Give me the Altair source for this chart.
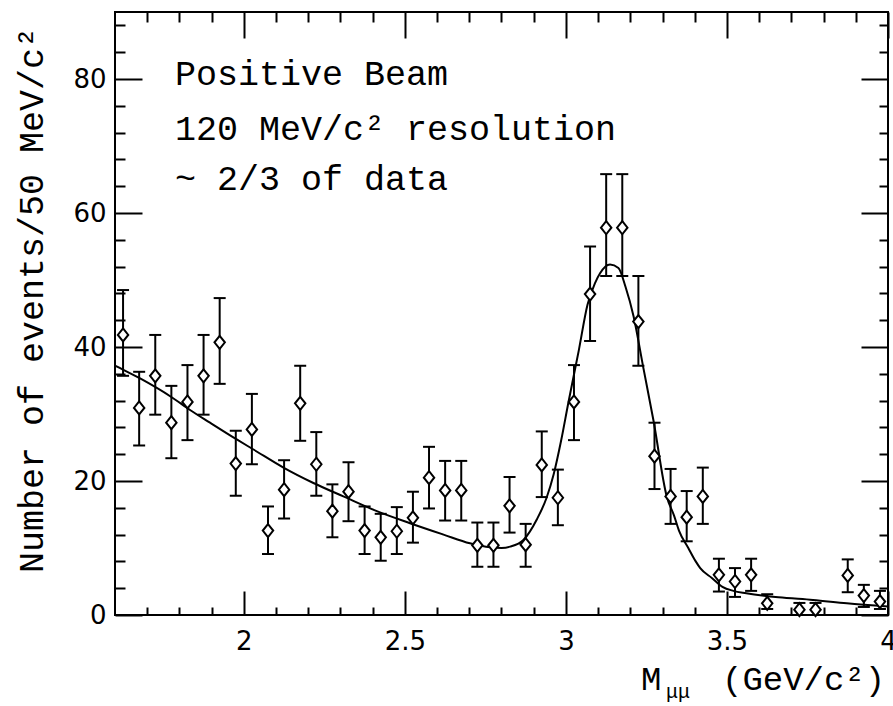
import json
import altair as alt
import pandas as pd

# ---------------- data ----------------
MASS = [1.625, 1.675, 1.725, 1.775, 1.825, 1.875, 1.925, 1.975,
        2.025, 2.075, 2.125, 2.175, 2.225, 2.275, 2.325, 2.375,
        2.425, 2.475, 2.525, 2.575, 2.625, 2.675, 2.725, 2.775,
        2.825, 2.875, 2.925, 2.975, 3.025, 3.075, 3.125, 3.175,
        3.225, 3.275, 3.325, 3.375, 3.425, 3.475, 3.525, 3.575,
        3.625, 3.675, 3.725, 3.775, 3.825, 3.875, 3.925, 3.975]
COUNTS = [41.8, 30.9, 35.7, 28.7, 31.8, 35.7, 40.7, 22.6,
          27.7, 12.6, 18.7, 31.6, 22.5, 15.5, 18.4, 12.6,
          11.6, 12.5, 14.5, 20.5, 18.6, 18.6, 10.4, 10.4,
          16.3, 10.5, 22.4, 17.5, 31.8, 47.9, 57.8, 57.8,
          43.8, 23.7, 17.7, 14.6, 17.7, 6.0, 5.0, 6.0,
          1.75, None, 0.8, 0.8, None, 5.9, 2.9, 2.0]
ERR_LO = [35.7, 25.3, 29.9, 23.4, 26.1, 29.9, 34.5, 17.8,
          22.5, 9.1, 14.4, 26.0, 17.8, 11.6, 14.0, 9.1,
          8.1, 9.1, 10.8, 15.9, 14.1, 14.1, 7.2, 7.2,
          12.3, 7.2, 17.6, 13.4, 26.1, 40.9, 50.6, 50.6,
          37.2, 18.8, 13.6, 11.0, 13.6, 3.5, 2.7, 3.6,
          0.9, None, 0.0, 0.0, None, 3.4, 1.2, 0.9]
ERR_HI = [48.5, 36.3, 41.8, 34.2, 37.3, 41.8, 47.3, 27.5,
          33.0, 16.2, 23.1, 37.2, 27.3, 19.5, 22.8, 16.2,
          15.1, 16.1, 18.4, 25.1, 23.0, 23.0, 13.8, 13.8,
          20.6, 13.6, 27.4, 21.7, 37.3, 55.0, 65.8, 65.8,
          50.6, 28.7, 21.8, 18.5, 22.0, 8.4, 7.0, 8.4,
          3.1, None, 1.8, 1.8, None, 8.3, 4.5, 3.6]

# fitted curve
CURVE_X = [1.600, 1.626, 1.678, 1.776, 1.833, 1.895, 1.978, 2.030, 2.123,
           2.216, 2.309, 2.413, 2.516, 2.620, 2.702, 2.765, 2.800, 2.827,
           2.868, 2.910, 2.940, 2.962, 2.985, 3.008, 3.040, 3.067, 3.090,
           3.106, 3.137, 3.163, 3.185, 3.210, 3.240, 3.272, 3.313, 3.336,
           3.351, 3.380, 3.403, 3.417, 3.454, 3.486, 3.520, 3.560, 3.660,
           3.767, 3.872, 4.000]
CURVE_Y = [37.2, 36.6, 35.3, 32.5, 30.6, 28.7, 26.2, 24.7, 22.0,
           19.7, 17.7, 15.5, 13.7, 12.0, 10.7, 10.1, 10.0, 10.2,
           11.2, 14.3, 17.5, 21.0, 26.0, 31.8, 39.5, 46.3, 49.5,
           51.0, 52.3, 51.8, 49.0, 44.6, 37.0, 29.0, 17.7, 14.8,
           12.6, 10.0, 8.0, 7.0, 5.5, 4.2, 3.6, 3.25, 2.65,
           2.25, 1.75, 1.25]

X_MAJOR = [2.0, 2.5, 3.0, 3.5, 4.0]
X_MINOR = [1.7, 1.8, 1.9, 2.1, 2.2, 2.3, 2.4, 2.6, 2.7, 2.8, 2.9,
           3.1, 3.2, 3.3, 3.4, 3.6, 3.7, 3.8, 3.9]
Y_MAJOR = [0, 20, 40, 60, 80]
Y_MINOR = [4, 8, 12, 16, 24, 28, 32, 36, 44, 48, 52, 56, 64, 68, 72, 76, 84, 88]

ANNOT = ["Positive Beam", "120 MeV/c\u00b2 resolution", "~ 2/3 of data"]
Y_TITLE = "Number of events/50 MeV/c\u00b2"
X_TITLE_M = "M"
X_TITLE_SUB = "\u03bc\u03bc"
X_TITLE_UNIT = "(GeV/c\u00b2)"

# ---------------- chart ----------------
W, H = 773, 603
X0, X1 = 1.6, 4.0
Y0, Y1 = 0.0, 90.0
MONO = "Liberation Mono"

xs = alt.Scale(domain=[X0, X1], nice=False, zero=False)
ys = alt.Scale(domain=[Y0, Y1], nice=False, zero=False)

XM = json.dumps(X_MAJOR)
YM = json.dumps(Y_MAJOR)
X_ALL = sorted(X_MAJOR + X_MINOR)
Y_ALL = sorted(Y_MAJOR + Y_MINOR)


def x_axis(orient, major_len, minor_len, labels):
    kw = dict(
        orient=orient, values=X_ALL, domain=False, grid=False, ticks=True,
        tickColor="black", tickWidth=2,
        tickSize=alt.ExprRef(
            expr=f"indexof({XM}, datum.value) >= 0 ? {-major_len} : {-minor_len}"),
        title=None, labelOverlap=False, labelFlush=False,
    )
    if labels:
        kw.update(labels=True, labelFontSize=26, labelFont="DejaVu Sans",
                  labelColor="black", labelPadding=13 + major_len, format="~g",
                  labelExpr=f"indexof({XM}, datum.value) >= 0 ? datum.label : ''")
    else:
        kw.update(labels=False)
    return alt.Axis(**kw)


def y_axis(orient, major_len, minor_len, labels):
    kw = dict(
        orient=orient, values=Y_ALL, domain=False, grid=False, ticks=True,
        tickColor="black", tickWidth=2,
        tickSize=alt.ExprRef(
            expr=f"indexof({YM}, datum.value) >= 0 ? {-major_len} : {-minor_len}"),
        title=None, labelOverlap=False,
    )
    if labels:
        kw.update(labels=True, labelFontSize=26, labelFont="DejaVu Sans",
                  labelColor="black", labelPadding=9 + major_len,
                  labelExpr=f"indexof({YM}, datum.value) >= 0 ? datum.label : ''")
    else:
        kw.update(labels=False)
    return alt.Axis(**kw)


AX_BOTTOM = x_axis("bottom", 24, 8, True)
AX_TOP = x_axis("top", 26, 10, False)
AX_LEFT = y_axis("left", 27, 10, True)
AX_RIGHT = y_axis("right", 27, 9, False)

pts = pd.DataFrame({"mass": MASS, "count": COUNTS, "lo": ERR_LO, "hi": ERR_HI})
pts = pts.dropna().reset_index(drop=True)
curve = pd.DataFrame({"mass": CURVE_X, "fit": CURVE_Y})

bars = alt.Chart(pts).mark_rule(color="black", strokeWidth=2).encode(
    x=alt.X("mass:Q", scale=xs, axis=AX_BOTTOM),
    y=alt.Y("lo:Q", scale=ys, axis=AX_LEFT), y2="hi:Q")
cap_lo = alt.Chart(pts).mark_tick(orient="horizontal", size=12, thickness=2,
                                  color="black", opacity=1).encode(
    x=alt.X("mass:Q", scale=xs, axis=None),
    y=alt.Y("lo:Q", scale=ys, axis=None))
cap_hi = alt.Chart(pts).mark_tick(orient="horizontal", size=12, thickness=2,
                                  color="black", opacity=1).encode(
    x=alt.X("mass:Q", scale=xs, axis=None),
    y=alt.Y("hi:Q", scale=ys, axis=None))
fit = alt.Chart(curve).mark_line(color="black", strokeWidth=2,
                                 interpolate="monotone", clip=True).encode(
    x=alt.X("mass:Q", scale=xs, axis=None),
    y=alt.Y("fit:Q", scale=ys, axis=None))
marks = alt.Chart(pts).mark_point(
    shape="M0,-1L0.8,0L0,1L-0.8,0Z", size=170, filled=True, fill="white",
    stroke="black", strokeWidth=2, opacity=1, fillOpacity=1).encode(
    x=alt.X("mass:Q", scale=xs, axis=AX_TOP),
    y=alt.Y("count:Q", scale=ys, axis=AX_RIGHT))


def label(text, x, y, size, angle=0, align="left", font=MONO):
    df = pd.DataFrame({"t": [text]})
    kw = dict(font=font, fontSize=size, align=align, baseline="alphabetic",
              color="black")
    if angle:
        kw["angle"] = angle
    return alt.Chart(df).mark_text(**kw).encode(
        x=alt.value(x), y=alt.value(y), text="t:N")


texts = [
    label(ANNOT[0], 60, 73, 35),
    label(ANNOT[1], 60, 128, 35),
    label(ANNOT[2], 60, 178, 35),
    label(Y_TITLE, -72, 288, 35, angle=270, align="center"),
    label(X_TITLE_M, 526, 678, 34),
    label(X_TITLE_SUB, 551, 686, 20),
    label(X_TITLE_UNIT, 607, 678, 34),
]

chart = alt.layer(bars, cap_lo, cap_hi, fit, marks, *texts).resolve_axis(
    x="independent", y="independent"
).properties(
    width=W, height=H,
    autosize=alt.AutoSizeParams(type="none"),
    padding={"left": 115, "top": 12, "right": 5, "bottom": 91},
    background="white",
).configure_view(stroke="black", strokeWidth=2)

chart.save("out.html", embed_options={"renderer": "svg", "actions": False})
